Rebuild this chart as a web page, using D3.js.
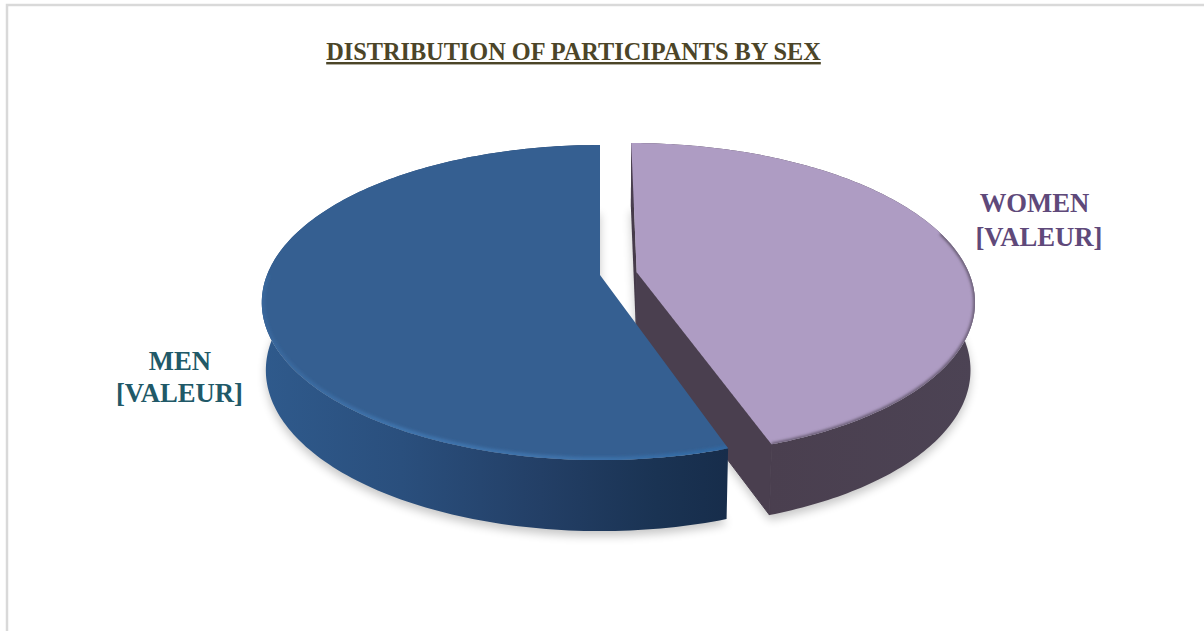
<!DOCTYPE html>
<html><head><meta charset="utf-8">
<script src="https://cdn.jsdelivr.net/npm/d3@7/dist/d3.min.js"></script>
<style>html,body{margin:0;padding:0;background:#fff;overflow:hidden}svg{display:block}</style>
</head><body><svg id="c" width="1204" height="631"></svg>
<script>
const categories = ["WOMEN", "MEN"];
const values = [44.8, 55.2];
const valueLabels = ["[VALEUR]", "[VALEUR]"];
const explode = [0.112, 0];
const chartTitle = "DISTRIBUTION OF PARTICIPANTS BY SEX";
const topColors = ["#ae9cc3", "#355f91"];
const labelColors = ["#5f497a", "#215968"];

const svg = d3.select("#c");
const defs = svg.append("defs");
const blur = (id, s) => defs.append("filter").attr("id", id)
  .attr("filterUnits", "userSpaceOnUse").attr("x", 0).attr("y", 0).attr("width", 1204).attr("height", 631)
  .append("feGaussianBlur").attr("stdDeviation", s);
blur("b5", 5); blur("b1", 1.6);

const grad = (id, stops, x1, x2) => {
  const g = defs.append("linearGradient").attr("id", id).attr("gradientUnits", "userSpaceOnUse")
    .attr("x1", x1).attr("x2", x2).attr("y1", 0).attr("y2", 0);
  stops.forEach(s => {
    const st = g.append("stop").attr("offset", s[0]).attr("stop-color", s[1]);
    if (s[2] !== undefined) st.attr("stop-opacity", s[2]);
  });
};
grad("menSide", [[0, "#2f5a8c"], [0.3, "#2a4f7d"], [0.6, "#233f66"], [0.85, "#1a3353"], [1, "#172d4b"]], 262, 727);
grad("womenSide", [[0, "#4a3f4f"], [1, "#4c4354"]], 770, 977);
grad("menRim", [[0, "#3f74ad", 0.35], [0.3, "#3f74ad", 1], [0.7, "#3f74ad", 0.9], [1, "#2f6aa5", 0.9]], 262, 727);

svg.append("rect").attr("x", 7).attr("y", 5).attr("width", 1300).attr("height", 700)
  .attr("fill", "#fff").attr("stroke", "#d9d9d9").attr("stroke-width", 2.5);

svg.append("text").attr("x", 573.5).attr("y", 60).attr("text-anchor", "middle")
  .attr("font-family", "Liberation Serif").attr("font-weight", "bold").attr("font-size", 24.3)
  .attr("text-decoration", "underline").attr("fill", "#4c4528").text(chartTitle);

// Perspective disc projection
const cx = 600, cy = 275, R = 333, A = 152.7, B = 0.175, D = 67, SHRINK = 0.988;
const project = (u, v, bottom) => {
  const s = 1 / (1 - B * v);
  return [cx + R * u * s * (bottom ? SHRINK : 1), cy + A * v * s + (bottom ? D * Math.pow(s, 0.3) : 0)];
};
const pie = d3.pie().value(d => d).sort(null);
const arcs = pie(values);
const line = d3.line();

const slices = arcs.map((a, i) => {
  const mid = (a.startAngle + a.endAngle) / 2;
  const ox = explode[i] * Math.sin(mid), oy = -explode[i] * Math.cos(mid);
  const pt = (ang, bottom) => project(ox + Math.sin(ang), oy - Math.cos(ang), bottom);
  const tip = bottom => project(ox, oy, bottom);
  const rim = (a0, a1, bottom) => d3.range(0, 181).map(k => pt(a0 + (a1 - a0) * k / 180, bottom));
  return { a, i, pt, tip, rim };
});

const draw = (pts, fill) => svg.append("path").attr("d", line(pts) + "Z").attr("fill", fill);

// soft ground shadow
slices.forEach(s => {
  const pts = [s.tip(true), ...s.rim(s.a.startAngle, s.a.endAngle, true)];
  draw(pts, "#000").attr("opacity", 0.22).attr("filter", "url(#b5)").attr("transform", "translate(0,5)");
});

const facePts = s => [s.tip(false), ...s.rim(s.a.startAngle, s.a.endAngle, false)];
slices.forEach(s => defs.append("clipPath").attr("id", "face" + s.i).append("path").attr("d", line(facePts(s)) + "Z"));

// Women slice
const w = slices[0];
draw([w.tip(false), w.pt(w.a.startAngle, false), w.pt(w.a.startAngle, true), w.tip(true)], "#463b4a");
draw([...w.rim(w.a.startAngle, w.a.endAngle, false), ...w.rim(w.a.startAngle, w.a.endAngle, true).reverse()], "url(#womenSide)");
draw([w.tip(false), w.pt(w.a.endAngle, false), w.pt(w.a.endAngle, true), w.tip(true)], "#4a3f4f")
  .attr("stroke", "#4a3f4f").attr("stroke-width", 1);
draw(facePts(w), topColors[0]);
svg.append("g").attr("clip-path", "url(#face0)").append("path")
  .attr("d", line(w.rim(w.a.startAngle + 1.3, w.a.endAngle, false)))
  .attr("fill", "none").attr("stroke", "#5a4f63").attr("stroke-width", 3).attr("filter", "url(#b1)");

// Men slice
const m = slices[1];
draw([...m.rim(m.a.startAngle, m.a.endAngle, false), ...m.rim(m.a.startAngle, m.a.endAngle, true).reverse()], "url(#menSide)");
draw(facePts(m), topColors[1]);
svg.append("g").attr("clip-path", "url(#face1)").append("path")
  .attr("d", line(m.rim(m.a.startAngle, m.a.startAngle + 1.9, false)))
  .attr("fill", "none").attr("stroke", "url(#menRim)").attr("stroke-width", 6).attr("filter", "url(#b1)");

// Labels
const labelPos = [[1034.5, 212, 1039, 246], [180, 370, 179.5, 402]];
categories.forEach((c, i) => {
  const g = svg.append("g").attr("font-family", "Liberation Serif").attr("font-weight", "bold")
    .attr("font-size", 26.7).attr("fill", labelColors[i]).attr("text-anchor", "middle");
  g.append("text").attr("x", labelPos[i][0]).attr("y", labelPos[i][1]).text(c);
  g.append("text").attr("x", labelPos[i][2]).attr("y", labelPos[i][3]).text(valueLabels[i]);
});
</script></body></html>
